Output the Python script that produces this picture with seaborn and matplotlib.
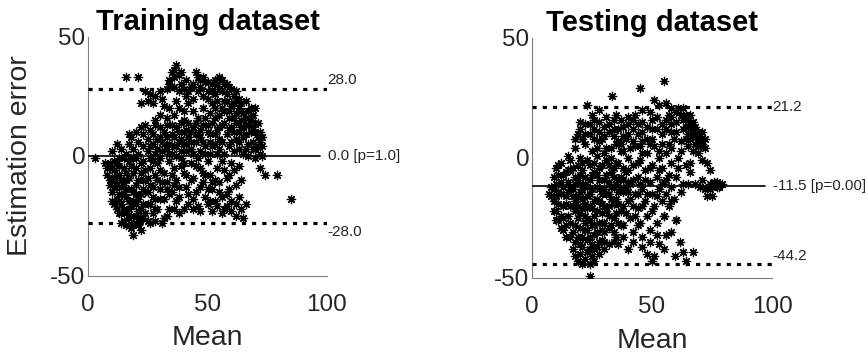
import numpy as np
import pandas as pd
import matplotlib
matplotlib.use("Agg")
import matplotlib.pyplot as plt
import seaborn as sns

# ---------------- data ----------------
titles = ["Training dataset", "Testing dataset"]
mean_bias = [0.0, -11.5]
upper_loa = [28.0, 21.2]
lower_loa = [-28.0, -44.2]
bias_labels = ["0.0 [p=1.0]", "-11.5 [p=0.00]"]
upper_labels = ["28.0", "21.2"]
lower_labels = ["-28.0", "-44.2"]
x_ticks = [0, 50, 100]
y_ticks = [-50, 0, 50]

train_points = [
    (16,33),(21,33),(24,27),(26,26),(28,25),(30,27),(27,22),(22,22),(25,23),(31,24),(33,28),(34,32),(35,35),(36,33),
    (37,38),(38,34),(39,30),(40,28),(41,25),(42,27),(43,29),(44,24),(45,35),(46,33),(47,32),(48,33),(49,31),(50,31),
    (52,30),(54,30),(55,28),(56,27),(53,26),(58,26),(60,28),(62,27),(63,24),(61,22),(64,22),(57,23),(50,24),(46,27),
    (44,19),(38,20),(36,17),(33,16),(35,13),(40,15),(48,20),(51,18),(53,20),(55,17),(57,19),(59,16),(62,18),(64,15),
    (66,16),(67,13),(68,10),(69,12),(70,10),(71,8),(72,6),(73,4),(72,1),(70,3),(69,6),(67,5),(66,9),(65,12),(63,10),
    (62,7),(60,12),(58,9),(56,13),(54,11),(52,14),(50,10),(48,13),(46,9),(44,12),(42,8),(40,10),(38,6),(36,8),(34,5),
    (32,10),(30,12),(28,13),(26,11),(24,13),(22,12),(20,10),(18,8),(17,5),(19,3),(21,6),(23,4),(25,7),(27,5),(29,3),
    (31,2),(33,3),(35,1),(37,4),(39,2),(41,5),(43,3),(45,6),(47,2),(49,4),(51,1),(53,5),(55,3),(57,1),(59,4),(61,2),
    (63,3),(65,1),(67,0),(70,-1),(73,0),(72,-5),(74,-8),(79,-8),(85,-18),(3,-1),(10,2),
    (7,-3),(8,-8),(9,-12),(10,-5),(10,-15),(11,-20),(11,-10),(12,-3),(12,-18),(13,-24),(13,-8),(14,-13),(14,-28),
    (15,-22),(15,-5),(16,-17),(16,-10),(17,-26),(17,-2),(18,-14),(18,-30),(18,-21),(19,-33),(19,-7),(20,-25),(20,-12),
    (21,-18),(21,-29),(22,-3),(22,-22),(23,-10),(23,-26),(24,-15),(24,-6),(25,-20),(26,-1),(26,-12),(27,-17),(28,-8),
    (29,-22),(29,-3),(30,-14),(31,-28),(32,-7),(32,-18),(33,-11),(34,-2),(35,-15),(36,-22),(36,-5),(37,-10),(38,-17),
    (39,-1),(40,-7),(41,-13),(42,-20),(43,-3),(44,-9),(45,-15),(46,-21),(47,-5),(48,-11),(49,-17),(50,-2),(51,-8),
    (52,-14),(53,-19),(54,-5),(55,-11),(56,-17),(57,-22),(58,-9),(59,-14),(60,-19),(61,-6),(62,-12),(63,-17),(64,-22),
    (65,-26),(66,-20),(64,-10),(60,-3),(56,-2),(46,-1),
    (9,-3),(11,-6),(13,-16),(15,-12),(16,-24),(17,-19),(19,-15),(20,-20),(21,-27),(22,-16),(14,-20),(12,-12),(10,-9),
    (18,-4),(20,-1),(23,-20),(25,-27),(24,-10),(27,-24),(26,-5),(28,-18),(30,-6),(31,-11),(33,-25),(34,-16),(35,-8),
    (37,-19),(38,-13),(40,-3),(42,-16),(43,-10),(45,-4),(47,-13),(49,-8),(51,-19),(53,-10),(55,-15),(57,-6),(59,-8),
    (62,-20),(63,-4),(58,-16),
    (25,2),(27,9),(29,7),(31,6),(33,8),(35,9),(37,12),(39,7),(41,11),(43,6),(45,14),(47,8),(49,16),(51,6),(53,9),
    (55,7),(57,14),(59,11),(61,16),(63,20),(65,18),(67,19),(68,15),(69,17),(71,14),(70,20),(66,23),(60,21),(58,30),
    (56,32),(52,22),(48,25),(42,22),(40,19),(37,23),(34,20),(36,29),(38,27),(32,21),(30,17),(28,15),(23,9),(21,1),
    (19,-1),(16,1),(15,-1),(14,3),(13,-1),(17,9),(12,5),
    (8,-5),(9,-10),(10,-19),(11,-2),(11,-13),(12,-8),(12,-22),(13,-4),(13,-19),(14,-10),(14,-24),(15,-16),(15,-27),
    (16,-7),(16,-14),(17,-22),(17,-9),(18,-25),(18,-1),(19,-19),(19,-29),(20,-5),(20,-16),(21,-10),(21,-23),(22,-7),
    (22,-26),(23,-14),(23,-2),(24,-24),(25,-9),(25,-15),(26,-20),(27,-2),(27,-13),(28,-22),(29,-10),(30,-18),(30,-1),
    (26,4),(28,1),(30,8),(32,5),(33,13),(34,1),(36,4),(37,0),(38,10),(39,14),(40,5),(41,2),(42,14),(43,10),(44,1),
    (45,9),(46,16),(47,11),(48,6),(49,1),(50,13),(51,9),(52,4),(53,16),(54,1),(55,12),(56,6),(39,-4),(41,-8),(36,-12),
    (33,-14),(44,-18),(48,-7),(52,-11),(50,-14),
    (60,6),(61,10),(62,14),(63,6),(64,19),(65,8),(66,13),(67,16),(68,20),(69,3),(70,14),(71,4),(72,10),(73,8),(66,3),
    (64,12),(62,23),(59,19),(58,23),(56,20),(54,23),(52,27),(50,27),(47,29),(44,30),(41,32),(39,35),(36,36),(34,30),
    (61,25),(59,29),(57,30),(55,33),(53,32),
    (50,-20),(52,-23),(54,-21),(56,-24),(58,-21),(60,-23),(62,-25),(47,-23),(44,-22),(40,-22),(38,-24),(34,-22),
    (32,-26),(28,-27),(26,-28),(20,-28),(22,-31),(16,-29),
]

test_points = [
    (23,22),(33.5,26),(45,29),(55,32),(28,20),(35,18),(40,17),(43,18),(46,20),(51,24),(53,22),(56,23),(58,21),(61,21),
    (63,21),(62,18),(65,16),(66,14),(67,12),(68,10),(69,8),(70,9),(71,11),(66,10),(64,8),(63,12),(60,15),(58,11),
    (56,16),(54,14),(52,12),(50,16),(48,13),(46,11),(44,14),(42,12),(40,10),(38,13),(36,12),(34,9),(32,11),(30,13),
    (28,15),(26,12),(24,10),(22,14),(20,15),(19,10),(21,8),(25,18),(31,17),(37,16),(49,19),(57,18),(59,8),(65,5),
    (67,3),(69,2),(70,5),(72,4),(68,6),(73,-2),(74,-5),(71,-1),(66,-6),(64,-3),
    (7,-15),(8,-12),(9,-18),(9,-8),(10,-4),(10,-22),(11,-14),(11,-26),(12,-10),(12,-2),(13,-20),(13,-30),(14,-6),
    (14,-16),(15,1),(15,-24),(16,-12),(16,-33),(17,-4),(17,-20),(18,4),(18,-28),(19,-9),(19,-16),(20,0),(20,-23),
    (20,-36),
    (21,-5),(21,-13),(22,6),(22,-19),(22,-30),(23,-1),(23,-26),(24,-9),(24,-15),(24,-38),(25,3),(25,-21),(26,-6),
    (26,-32),(27,-12),(27,1),(28,-18),(28,-27),(28,7),(29,-3),(29,-23),(30,-9),(30,-35),(31,-15),(31,4),(32,-20),
    (32,-29),(33,-6),(33,0),(34,-12),(34,-25),(35,6),(35,-17),(35,-33),
    (36,-2),(36,-9),(37,-22),(37,3),(38,-14),(38,-28),(39,-6),(39,8),(40,-18),(40,0),(41,-11),(41,-25),(42,-3),
    (42,-31),(43,-15),(43,5),(44,-8),(44,-21),(45,-1),(45,-27),(46,-13),(46,7),(47,-18),(47,-5),(48,-24),(48,2),
    (49,-10),(49,-30),(50,-15),(50,-3),
    (51,-20),(51,5),(52,-8),(52,-27),(53,-13),(53,0),(54,-18),(54,-4),(55,-24),(55,-10),(56,-15),(56,2),(57,-7),
    (57,-20),(58,-12),(58,-2),(59,-17),(60,-26),(60,-8),(61,-4),(62,-14),(63,-11),
    (76,-11),(77,-12),(78,-11),(79,-11),(75,-12),(74,-11),(72,-13),(73,-16),(75,-16),(71,-9),(70,-12),(68,-11),
    (65,-11),(66,-2),
    (17,-38),(18,-41),(19,-43),(20,-40),(21,-44),(22,-42),(23,-39),(24,-44),(24,-49),(25,-41),(26,-43),(27,-37),
    (28,-40),(29,-34),(23,-34),(21,-37),(19,-33),(30,-38),(32,-36),(34,-31),(36,-36),(38,-33),(40,-38),(42,-35),
    (44,-28),(45.8,-37),(48,-40),(50,-43),(51,-41),(53,-36),(55,-38),(58,-31),(59.5,-41),(61.5,-35),(63,-39),
    (64,-43),(67,-39),(60,-26),(55,-24),(56,-32),(52,-32),(49,-35),(46,-33),
    (15,-10),(16,-5),(17,-13),(18,-18),(19,-25),(20,-7),(21,-21),(22,-11),(23,-16),(24,-3),(25,-28),(26,-18),
    (27,-7),(28,-13),(29,-30),(30,-20),(31,-1),(32,-10),(33,-17),(34,-4),(35,-23),(36,-14),(37,-8),(38,-20),
    (39,-12),(40,-5),(41,-17),(42,-9),(43,-24),(44,-2),(45,-11),(46,-20),(47,-9),(48,-15),(49,-4),(50,-22),
    (52,-16),(53,-5),(54,-11),(56,-9),(58,-18),(12,-24),(14,-28),(10,-16),(13,-12),(11,-7),(16,-20),(18,-11),
    (20,-14),(22,-24),(24,-20),(26,-24),(28,-35),(30,-27),(32,-24),(34,-19),(36,-27),(38,-4),(40,-10),(42,-20),
    (44,-15),(26,8),(30,2),(34,12),(38,3),(42,7),(46,2),(50,8),(54,6),(58,4),(62,3),
    (8,-16),(9,-13),(9,-22),(10,-11),(10,-26),(11,-19),(11,-3),(12,-15),(12,-29),(13,-7),(13,-25),(14,-19),(14,-33),
    (15,-14),(15,-5),(16,-27),(16,-1),(17,-16),(17,-31),(18,-8),(18,-22),(18,-35),(19,-20),(19,-3),(20,-29),(20,-11),
    (21,-2),(21,-17),(21,-33),(22,-8),(22,-27),(23,-12),(23,-21),(23,-30),(24,-26),(24,-33),(25,-7),(25,-13),
    (25,-36),(26,-2),(26,-28),(26,-38),(27,-17),(27,-22),(27,-31),(28,-4),(28,-9),(29,-15),(29,-19),(29,-27),
    (30,-13),(30,-31),(31,-7),(31,-22),(32,-3),(32,-15),(33,-12),(33,-28),(34,-8),(34,-35),(35,-2),(35,-11),
    (36,-19),(37,-13),(37,-28),(38,-9),(39,-23),(40,-14),
    (18,8),(20,12),(22,10),(24,14),(26,16),(28,11),(30,9),(32,14),(34,16),(36,7),(38,9),(40,14),(42,16),(44,10),
    (46,15),(48,8),(50,12),(52,17),(54,10),(56,12),(58,14),(60,11),(62,7),(27,4),(29,8),(33,4),(37,6),(41,4),(45,5),
    (49,6),(53,3),(57,6),(61,0),
    (63,16),(64,13),(65,10),(66,8),(67,15),(68,13),(69,11),(70,7),(71,6),(72,8),(65,13),(67,9),(69,5),(64,18),
    (66,18),(60,19),(58,17),(76,-10),(78,-12),(77,-10),(74,-13),
]

datasets = [train_points, test_points]

# ---------------- style ----------------
sns.set_style("white")
plt.rcParams["font.family"] = ["Liberation Sans", "DejaVu Sans"]
text_col = "#262626"
axis_col = "#808080"

fig = plt.figure(figsize=(8.68, 3.56), dpi=100)
axes_rects = [
    [88 / 868, (356 - 275.5) / 356, 239 / 868, 239 / 356],
    [532 / 868, (356 - 278) / 356, 240 / 868, 240 / 356],
]
label_va = [("bottom", "top"), ("center", "bottom")]
label_dy = [(1.0, -1.0), (0.0, 0.5)]

for i, rect in enumerate(axes_rects):
    ax = fig.add_axes(rect)
    df = pd.DataFrame(datasets[i], columns=["Mean", "Error"])
    sns.scatterplot(data=df, x="Mean", y="Error", ax=ax, marker=(8, 2, 0),
                    color="black", edgecolor="black", s=36, linewidth=0.9,
                    legend=False, zorder=3)
    ax.plot([0, 97], [mean_bias[i]] * 2, color="black", lw=1.2, zorder=4)
    for val in (upper_loa[i], lower_loa[i]):
        ax.plot([0, 100], [val, val], color="black", lw=2.3,
                linestyle=(0, (1.3, 1.9)), dash_capstyle="butt", zorder=4)
    ax.text(100.3, mean_bias[i], bias_labels[i], fontsize=11, color=text_col,
            va="center", ha="left", clip_on=False)
    ax.text(100.3, upper_loa[i] + label_dy[i][0], upper_labels[i], fontsize=11,
            color=text_col, va=label_va[i][0], ha="left", clip_on=False)
    ax.text(100.3, lower_loa[i] + label_dy[i][1], lower_labels[i], fontsize=11,
            color=text_col, va=label_va[i][1], ha="left", clip_on=False)

    ax.set_xlim(0, 100)
    ax.set_ylim(-50, 50)
    ax.set_xticks(x_ticks)
    ax.set_yticks(y_ticks)
    ax.set_yticklabels([str(v) for v in y_ticks])
    ax.tick_params(axis="both", direction="in", length=3, width=0.8,
                   color=axis_col, labelsize=17.5, labelcolor=text_col)
    ax.tick_params(axis="x", pad=13)
    ax.tick_params(axis="y", pad=2)
    sns.despine(ax=ax, top=True, right=True)
    for sp in ("left", "bottom"):
        ax.spines[sp].set_color(axis_col)
        ax.spines[sp].set_linewidth(0.8)
    ax.set_title(titles[i], fontsize=21, fontweight="bold", color="black", pad=5)
    ax.set_xlabel("Mean", fontsize=20.5, color=text_col, labelpad=7)
    if i == 0:
        ax.set_ylabel("Estimation error", fontsize=20.5, color=text_col, labelpad=12)
    else:
        ax.set_ylabel("")

fig.savefig("out.png", dpi=100)
